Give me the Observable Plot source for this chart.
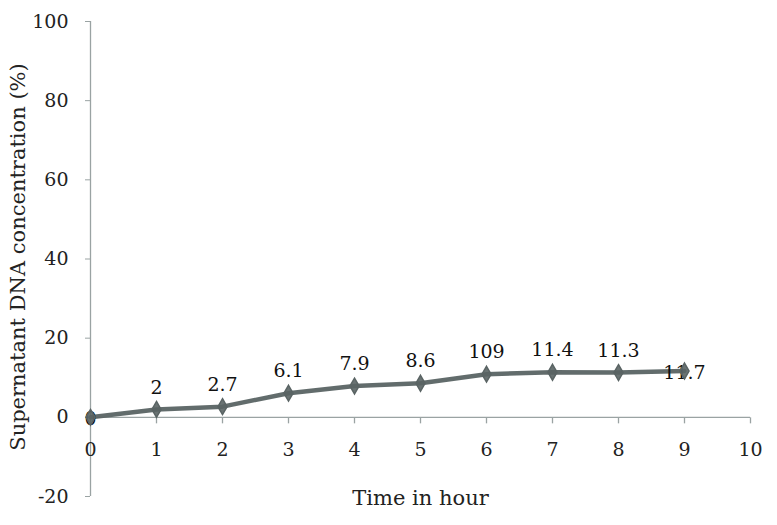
<!DOCTYPE html>
<html>
<head>
<meta charset="utf-8">
<script src="https://cdn.jsdelivr.net/npm/d3@7"></script>
<script src="https://cdn.jsdelivr.net/npm/@observablehq/plot@0.6"></script>
<style>
  html, body { margin: 0; padding: 0; background: #fff; }
  #chart svg { display: block; }
</style>
</head>
<body>
<div id="chart"></div>
<script>
const hours = [0, 1, 2, 3, 4, 5, 6, 7, 8, 9];
const concentration = [0, 2, 2.7, 6.1, 7.9, 8.6, 10.9, 11.4, 11.3, 11.7];
const pointLabels = ["0", "2", "2.7", "6.1", "7.9", "8.6", "109", "11.4", "11.3", "11.7"];
const xTicks = [0, 1, 2, 3, 4, 5, 6, 7, 8, 9, 10];
const yTicks = [-20, 0, 20, 40, 60, 80, 100];
const xTitle = "Time in hour";
const yTitle = "Supernatant DNA concentration (%)";

const data = hours.map((h, i) => ({hour: h, value: concentration[i], label: pointLabels[i], i}));

const axisColor = "#9aa3a3";
const lineColor = "#5a6464";
const font = "DejaVu Serif";

const downTick = {draw(ctx) { ctx.moveTo(0, 0); ctx.lineTo(0, 6); }};

const chart = Plot.plot({
  width: 777,
  height: 525,
  marginLeft: 90,
  marginRight: 27,
  marginTop: 21,
  marginBottom: 29,
  style: {fontFamily: font, fontSize: "19px", color: "#222", background: "#fff"},
  x: {domain: [0, 10], axis: null},
  y: {domain: [-20, 100], axis: null},
  marks: [
    Plot.axisY({ticks: yTicks, tickFormat: d => String(d), tickSize: 5, tickPadding: 17, stroke: axisColor, fill: "#222", fontSize: 19, label: null}),
    Plot.ruleX([0], {y1: -20, y2: 100, stroke: axisColor, strokeWidth: 1.3}),
    Plot.ruleY([0], {x1: 0, x2: 10, stroke: axisColor, strokeWidth: 1.3}),
    Plot.dot(xTicks, {x: d => d, y: 0, symbol: downTick, stroke: axisColor, strokeWidth: 1.3, r: 3}),
    Plot.text(xTicks, {x: d => d, y: 0, text: d => String(d), dy: 33, fill: "#222", fontSize: 19, lineAnchor: "middle"}),
    Plot.text([xTitle], {frameAnchor: "bottom", dy: 8, text: d => d, fill: "#222", fontSize: 21, lineAnchor: "bottom"}),
    Plot.text([yTitle], {frameAnchor: "left", dx: -72, dy: -2, text: d => d, rotate: -90, textAnchor: "middle", fill: "#222", fontSize: 21, lineAnchor: "middle"}),
    Plot.line(data, {x: "hour", y: "value", stroke: lineColor, strokeWidth: 4.5, strokeOpacity: 0.95}),
    Plot.text(data.filter(d => d.i === 0 || d.i === hours.length - 1), {x: "hour", y: "value", text: "label", dy: 2, fill: "#111", fontSize: 19, lineAnchor: "middle"}),
    Plot.dot(data, {x: "hour", y: "value", symbol: "diamond", r: 4.8, fill: lineColor, fillOpacity: 0.9, stroke: lineColor}),
    Plot.text(data.filter(d => d.i !== 0 && d.i !== hours.length - 1), {x: "hour", y: "value", text: "label", dy: -22, fill: "#111", fontSize: 19, lineAnchor: "middle"})
  ]
});
document.getElementById("chart").appendChild(chart);
</script>
</body>
</html>
